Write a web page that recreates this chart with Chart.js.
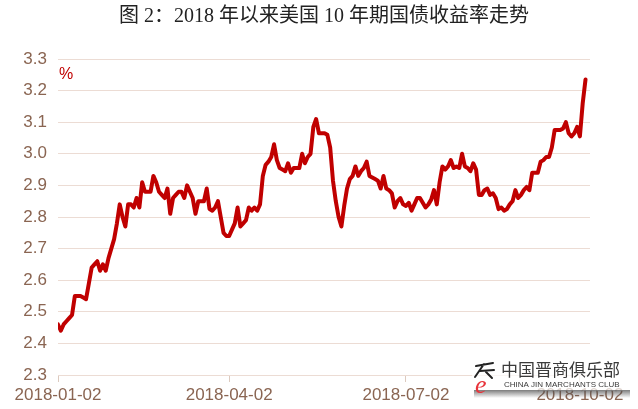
<!DOCTYPE html>
<html>
<head>
<meta charset="utf-8">
<script src="https://cdn.jsdelivr.net/npm/chart.js@4"></script>
<style>
  html, body { margin: 0; padding: 0; background: #fff; }
</style>
</head>
<body>
<canvas id="grafico" width="638" height="409"></canvas>
<script>
// Datos: rendimiento del bono del Tesoro a 10 años (%), un valor por día hábil desde 2018-01-02
const rendimientos = [
  2.46, 2.44, 2.46, 2.47, 2.48, 2.49, 2.55, 2.55, 2.55, 2.545,
  2.54, 2.59, 2.64, 2.65, 2.66, 2.63, 2.65, 2.63, 2.67, 2.70,
  2.73, 2.78, 2.84, 2.80, 2.77, 2.84, 2.84, 2.83, 2.86, 2.83,
  2.91, 2.88, 2.88, 2.88, 2.93, 2.91, 2.88, 2.87, 2.86, 2.89,
  2.81, 2.86, 2.87, 2.88, 2.88, 2.86, 2.90, 2.88, 2.86, 2.81,
  2.85, 2.85, 2.85, 2.89, 2.825, 2.82, 2.83, 2.85, 2.80, 2.75,
  2.74, 2.74, 2.76, 2.78, 2.83, 2.77, 2.78, 2.79, 2.83, 2.82,
  2.83, 2.82, 2.84, 2.93, 2.965, 2.975, 2.99, 3.03, 2.98, 2.955,
  2.95, 2.945, 2.97, 2.94, 2.955, 2.955, 2.955, 3.00, 2.97, 2.99,
  3.00, 3.085, 3.11, 3.065, 3.065, 3.065, 3.06, 3.02, 2.915, 2.85,
  2.80, 2.77, 2.835, 2.89, 2.92, 2.93, 2.96, 2.93, 2.945, 2.955,
  2.975, 2.93, 2.925, 2.92, 2.915, 2.89, 2.93, 2.89, 2.885, 2.875,
  2.83, 2.85, 2.86, 2.84, 2.835, 2.845, 2.82, 2.84, 2.86, 2.86,
  2.845, 2.83, 2.84, 2.855, 2.885, 2.84, 2.91, 2.96, 2.95, 2.96,
  2.98, 2.955, 2.96, 2.955, 3.00, 2.96, 2.955, 2.945, 2.97, 2.95,
  2.87, 2.87, 2.885, 2.89, 2.87, 2.875, 2.86, 2.825, 2.83, 2.82,
  2.825, 2.84, 2.85, 2.885, 2.86, 2.87, 2.885, 2.895, 2.885, 2.94,
  2.94, 2.94, 2.975, 2.98, 2.99, 2.99, 3.02, 3.075, 3.075, 3.075,
  3.08, 3.10, 3.065, 3.055, 3.065, 3.085, 3.055, 3.16, 3.235
];

// Etiquetas del eje X (posición = índice del día hábil)
const indiceEtiquetas = [0, 61, 124, 186];
const etiquetasFecha = ['2018-01-02', '2018-04-02', '2018-07-02', '2018-10-02'];

// Eje Y
const yMin = 2.3;
const yMax = 3.3;
const yPaso = 0.1;

const titulo = '图 2：2018 年以来美国 10 年期国债收益率走势';
const unidad = '%';
const marcaAgua = ['中国晋商俱乐部', 'CHINA JIN MARCHANTS CLUB'];

const colorLinea = '#c00000';
const colorTexto = '#8a6552';
const colorRejilla = '#ecdcd4';
const fuenteEjes = { family: '"Liberation Sans", Arial, sans-serif', size: 17, lineHeight: 1 };

const puntos = rendimientos.map((v, i) => ({ x: i, y: v }));

// Plugin: título, unidad "%" y marca de agua
const extras = {
  id: 'extras',
  afterDraw(chart) {
    const ctx = chart.ctx;
    ctx.save();
    ctx.fillStyle = '#222';
    ctx.font = '20px "Liberation Serif", "Noto Sans CJK SC", serif';
    ctx.textAlign = 'center';
    ctx.textBaseline = 'middle';
    ctx.fillText(titulo, 324, 17);

    ctx.fillStyle = colorLinea;
    ctx.font = '16px "Liberation Sans", Arial, sans-serif';
    ctx.textAlign = 'left';
    ctx.fillText(unidad, 59, 75);

    // caja semitransparente de la marca de agua
    ctx.fillStyle = 'rgba(255,255,255,0.72)';
    ctx.fillRect(472, 356, 158, 35);
    const g = ctx.createLinearGradient(0, 390, 0, 398);
    g.addColorStop(0, 'rgba(80,80,80,0.75)');
    g.addColorStop(1, 'rgba(80,80,80,0)');
    ctx.fillStyle = g;
    ctx.fillRect(474, 390, 156, 8);

    // logo
    ctx.strokeStyle = '#222';
    ctx.lineWidth = 2;
    ctx.lineCap = 'round';
    ctx.beginPath();
    ctx.moveTo(476, 366); ctx.lineTo(493, 363);
    ctx.moveTo(484, 364); ctx.lineTo(475, 377);
    ctx.moveTo(480, 371); ctx.lineTo(494, 370);
    ctx.moveTo(486, 372); ctx.lineTo(492, 378);
    ctx.stroke();
    ctx.fillStyle = '#e8333a';
    ctx.font = 'italic 26px "Liberation Serif", serif';
    ctx.textBaseline = 'alphabetic';
    ctx.fillText('e', 475, 393);

    ctx.fillStyle = '#3a3a3a';
    ctx.font = '17px "Noto Sans CJK SC", sans-serif';
    ctx.textBaseline = 'middle';
    ctx.fillText(marcaAgua[0], 501, 370);
    ctx.font = '8px "Liberation Sans", Arial, sans-serif';
    ctx.fillText(marcaAgua[1], 504, 385);
    ctx.restore();
  }
};

const ctx = document.getElementById('grafico').getContext('2d');

const chart = new Chart(ctx, {
  type: 'line',
  data: {
    datasets: [{
      data: puntos,
      borderColor: colorLinea,
      borderWidth: 4,
      pointRadius: 0,
      tension: 0,
      borderJoinStyle: 'round',
      borderCapStyle: 'round'
    }]
  },
  options: {
    responsive: false,
    animation: false,
    devicePixelRatio: 1,
    layout: { padding: { left: 0, right: 48, top: 59, bottom: 0 } },
    plugins: {
      legend: { display: false },
      tooltip: { enabled: false },
      title: { display: false }
    },
    scales: {
      x: {
        type: 'linear',
        min: 0,
        max: 189.6,
        afterBuildTicks: s => { s.ticks = indiceEtiquetas.map(v => ({ value: v })); },
        ticks: {
          autoSkip: false,
          maxRotation: 0,
          padding: 5,
          color: colorTexto,
          font: fuenteEjes,
          callback: (v, i) => etiquetasFecha[i]
        },
        grid: { drawOnChartArea: false, tickLength: 7, color: '#dccabf' },
        border: { display: false }
      },
      y: {
        min: yMin,
        max: yMax,
        afterFit: s => { s.width = 58; },
        ticks: {
          stepSize: yPaso,
          padding: 11,
          color: colorTexto,
          font: fuenteEjes,
          callback: v => v.toFixed(1)
        },
        grid: { color: colorRejilla, drawTicks: false },
        border: { display: false }
      }
    }
  },
  plugins: [extras]
});
</script>
</body>
</html>
